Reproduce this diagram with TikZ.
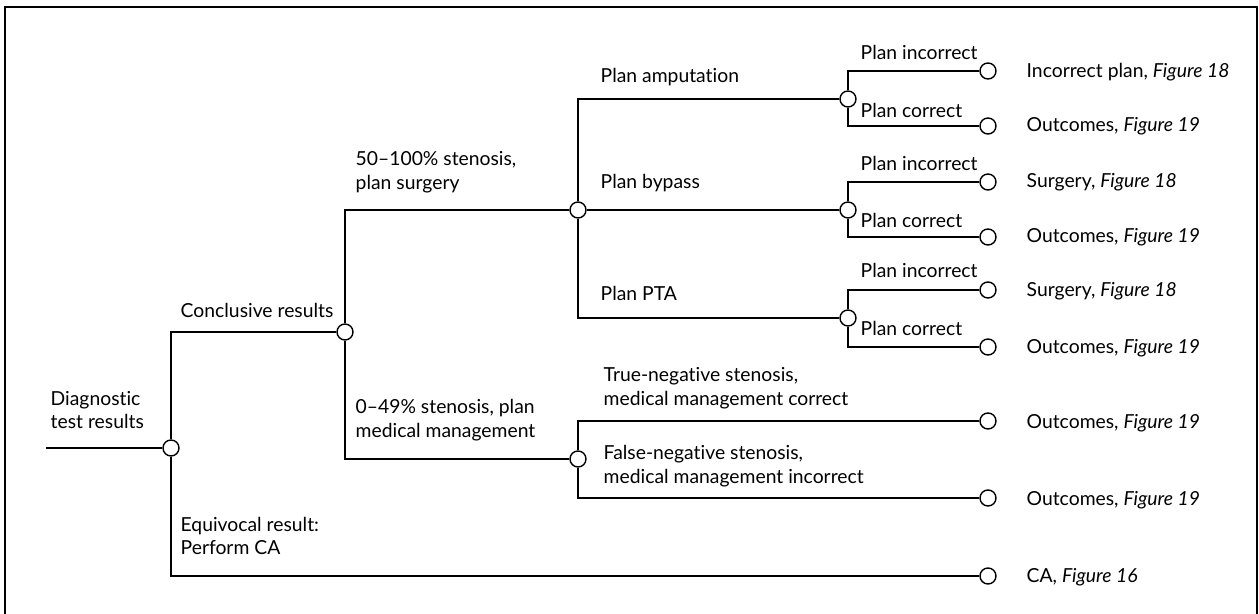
\documentclass[tikz,border=0pt]{standalone}
\usepackage{fontspec}
\setmainfont{Lato}[Ligatures=NoCommon]
\begin{document}
\begin{tikzpicture}[x=0.02cm,y=-0.02cm,line width=0.8pt,
    chance/.style={draw,circle,fill=white,inner sep=0pt,minimum size=0.32cm},
    lbl/.style={anchor=west,align=left,inner sep=0pt,font=\fontsize{11}{13.6}\selectfont}]
  \useasboundingbox (0,0) rectangle (1259,614) ;
  \draw[line width=0.6pt] (5,614) -- (5,7) -- (1257,7) -- (1257,614) ;
  % chance nodes
  \coordinate (in) at (46,448) ;
  \node[chance] (root) at (171,448) {} ;
  \node[chance] (concl) at (345,332) {} ;
  \node[chance] (surg) at (578,210) {} ;
  \node[chance] (med) at (578,459) {} ;
  \node[chance] (amp) at (848,99) {} ;
  \node[chance] (byp) at (848,210) {} ;
  \node[chance] (pta) at (848,318) {} ;
  % outcome nodes
  \node[chance] (ampI) at (988,71) {} ;
  \node[chance] (ampC) at (988,126) {} ;
  \node[chance] (bypI) at (988,182) {} ;
  \node[chance] (bypC) at (988,237) {} ;
  \node[chance] (ptaI) at (988,290) {} ;
  \node[chance] (ptaC) at (988,347) {} ;
  \node[chance] (medT) at (988,421) {} ;
  \node[chance] (medF) at (988,498) {} ;
  \node[chance] (ca) at (988,576) {} ;
  % branches
  \draw (in) -- (root) ;
  \draw (root) |- (concl) ;
  \draw (root) |- (ca) ;
  \draw (concl) |- (surg) ;
  \draw (concl) |- (med) ;
  \draw (surg) |- (amp) ;
  \draw (surg) -- (byp) ;
  \draw (surg) |- (pta) ;
  \draw (amp) |- (ampI) ; \draw (amp) |- (ampC) ;
  \draw (byp) |- (bypI) ; \draw (byp) |- (bypC) ;
  \draw (pta) |- (ptaI) ; \draw (pta) |- (ptaC) ;
  \draw (med) |- (medT) ; \draw (med) |- (medF) ;
  % branch labels
  \node[lbl] (lDiag) at (50,410) {Diagnostic\\test results} ;
  \node[lbl] (lConcl) at (180,310) {Conclusive results} ;
  \node[lbl] (lEquiv) at (180,536) {Equivocal result:\\Perform CA} ;
  \node[lbl] (lSurg) at (355,172) {50--100\% stenosis,\\plan surgery} ;
  \node[lbl] (lMed) at (355,420) {0--49\% stenosis, plan\\medical management} ;
  \node[lbl] (lAmp) at (600,77) {Plan amputation} ;
  \node[lbl] (lByp) at (600,183) {Plan bypass} ;
  \node[lbl] (lPta) at (600,293) {Plan PTA} ;
  \foreach \n/\y in {1/52,2/163,3/270} \node[lbl] (lInc\n) at (860,\y) {Plan incorrect} ;
  \foreach \n/\y in {1/110,2/220,3/328} \node[lbl] (lCor\n) at (860,\y) {Plan correct} ;
  \node[lbl] (lTrue) at (603,388) {True-negative stenosis,\\medical management correct} ;
  \node[lbl] (lFalse) at (603,466) {False-negative stenosis,\\medical management incorrect} ;
  % outcome labels
  \node[lbl] (oAmpI) at (1026,72) {Incorrect plan, \textit{Figure 18}} ;
  \node[lbl] (oAmpC) at (1026,126) {Outcomes, \textit{Figure 19}} ;
  \node[lbl] (oBypI) at (1026,182) {Surgery, \textit{Figure 18}} ;
  \node[lbl] (oBypC) at (1026,237) {Outcomes, \textit{Figure 19}} ;
  \node[lbl] (oPtaI) at (1026,291) {Surgery, \textit{Figure 18}} ;
  \node[lbl] (oPtaC) at (1026,348) {Outcomes, \textit{Figure 19}} ;
  \node[lbl] (oMedT) at (1026,423) {Outcomes, \textit{Figure 19}} ;
  \node[lbl] (oMedF) at (1026,500) {Outcomes, \textit{Figure 19}} ;
  \node[lbl] (oCA) at (1026,577) {CA, \textit{Figure 16}} ;
\end{tikzpicture}
\end{document}
